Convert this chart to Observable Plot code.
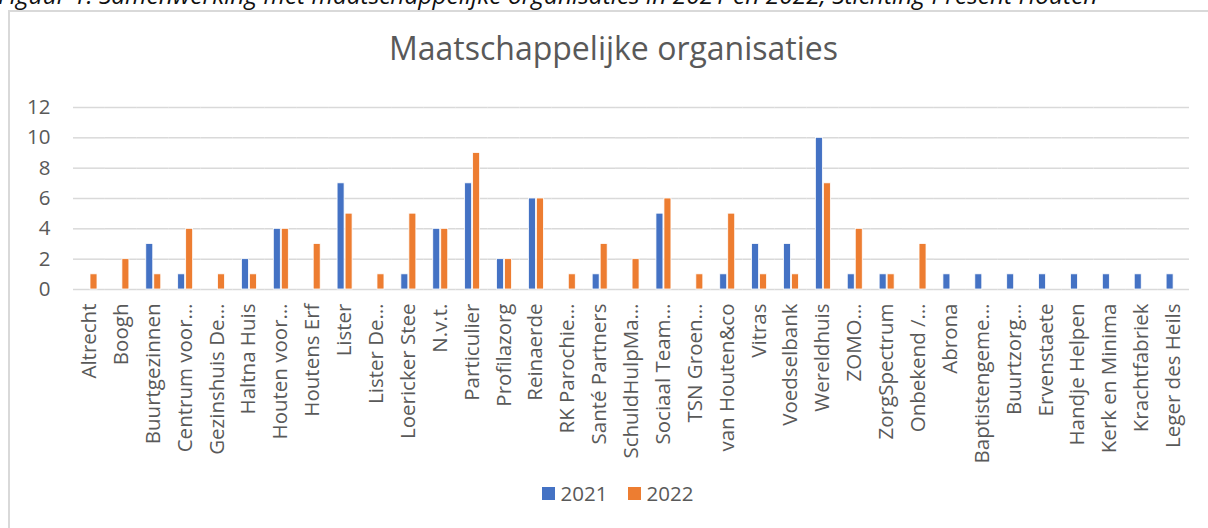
<!DOCTYPE html>
<html>
<head>
<meta charset="utf-8">
<script src="https://cdn.jsdelivr.net/npm/d3@7"></script>
<script src="https://cdn.jsdelivr.net/npm/@observablehq/plot@0.6"></script>
<style>
  body { margin: 0; background: #fff; }
  #wrap { position: relative; width: 1208px; height: 528px; overflow: hidden; font-family: "Open Sans", sans-serif; }
  #caption { position: absolute; left: -2px; top: -15px; font: italic 24.5px "Open Sans", sans-serif; line-height: 20px; color: #111; white-space: nowrap; }
  #box { position: absolute; left: 8px; top: 10px; width: 1300px; height: 700px; border: 2px solid #d9d9d9; box-sizing: border-box; }
  #title { position: absolute; left: 0; width: 1227px; top: 28px; text-align: center; font-size: 32px; line-height: 40px; color: #595959; }
  #chart { position: absolute; left: 0; top: 0; }
  #legend { position: absolute; left: 0; width: 1235px; top: 480px; display: flex; justify-content: center; gap: 20px; font-size: 20.5px; color: #595959; line-height: 26px; }
  .item { display: flex; align-items: center; gap: 6px; }
  .sw { width: 13px; height: 13px; display: inline-block; }
</style>
</head>
<body>
<div id="wrap">
  <div id="caption">Figuur 1. Samenwerking met maatschappelijke organisaties in 2021 en 2022, Stichting Present Houten</div>
  <div id="box"></div>
  <div id="title">Maatschappelijke organisaties</div>
  <div id="chart"></div>
  <div id="legend"></div>
</div>
<script>
const categories = [
  "Altrecht", "Boogh", "Buurtgezinnen", "Centrum voor…", "Gezinshuis De…", "Haltna Huis",
  "Houten voor…", "Houtens Erf", "Lister", "Lister De…", "Loericker Stee", "N.v.t.",
  "Particulier", "Profilazorg", "Reinaerde", "RK Parochie…", "Santé Partners", "SchuldHulpMa…",
  "Sociaal Team…", "TSN Groen…", "van Houten&co", "Vitras", "Voedselbank", "Wereldhuis",
  "ZOMO…", "ZorgSpectrum", "Onbekend /…", "Abrona", "Baptistengeme…", "Buurtzorg…",
  "Ervenstaete", "Handje Helpen", "Kerk en Minima", "Krachtfabriek", "Leger des Heils"
];
const values2021 = [0, 0, 3, 1, 0, 2, 4, 0, 7, 0, 1, 4, 7, 2, 6, 0, 1, 0, 5, 0, 1, 3, 3, 10, 1, 1, 0, 1, 1, 1, 1, 1, 1, 1, 1];
const values2022 = [1, 2, 1, 4, 1, 1, 4, 3, 5, 1, 5, 4, 9, 2, 6, 1, 3, 2, 6, 1, 5, 1, 1, 7, 4, 1, 3, 0, 0, 0, 0, 0, 0, 0, 0];
const years = ["2021", "2022"];
const colors = ["#4472C4", "#ED7D31"];
const yTicks = [0, 2, 4, 6, 8, 10, 12];

const data = categories.flatMap((c, i) => [
  {org: c, year: years[0], value: values2021[i]},
  {org: c, year: years[1], value: values2022[i]}
]).filter(d => d.value > 0);

const chart = Plot.plot({
  width: 1208,
  height: 470,
  marginTop: 107,
  marginBottom: 181,
  marginLeft: 73,
  marginRight: 19,
  style: {fontFamily: "Open Sans, sans-serif", fontSize: "20.5px", color: "#595959", background: "transparent", overflow: "visible"},
  fx: {domain: categories, padding: 0, label: null, tickRotate: -90, tickSize: 0, tickPadding: 14},
  x: {domain: years, paddingInner: 0.167, paddingOuter: 0.855, axis: null},
  y: {domain: [0, 12], ticks: yTicks, label: null, tickSize: 0, tickPadding: 23},
  color: {domain: years, range: colors},
  marks: [
    Plot.gridY(yTicks, {stroke: "#d9d9d9", strokeOpacity: 1, strokeWidth: 1.5}),
    Plot.barY(data, {fx: "org", x: "year", y: "value", fill: "year", stroke: "white", strokeWidth: 0.8})
  ]
});
document.getElementById("chart").appendChild(chart);

const legend = document.getElementById("legend");
years.forEach((y, i) => {
  const it = document.createElement("div");
  it.className = "item";
  const sw = document.createElement("span");
  sw.className = "sw";
  sw.style.background = colors[i];
  const t = document.createElement("span");
  t.textContent = y;
  it.appendChild(sw); it.appendChild(t);
  legend.appendChild(it);
});
</script>
</body>
</html>
